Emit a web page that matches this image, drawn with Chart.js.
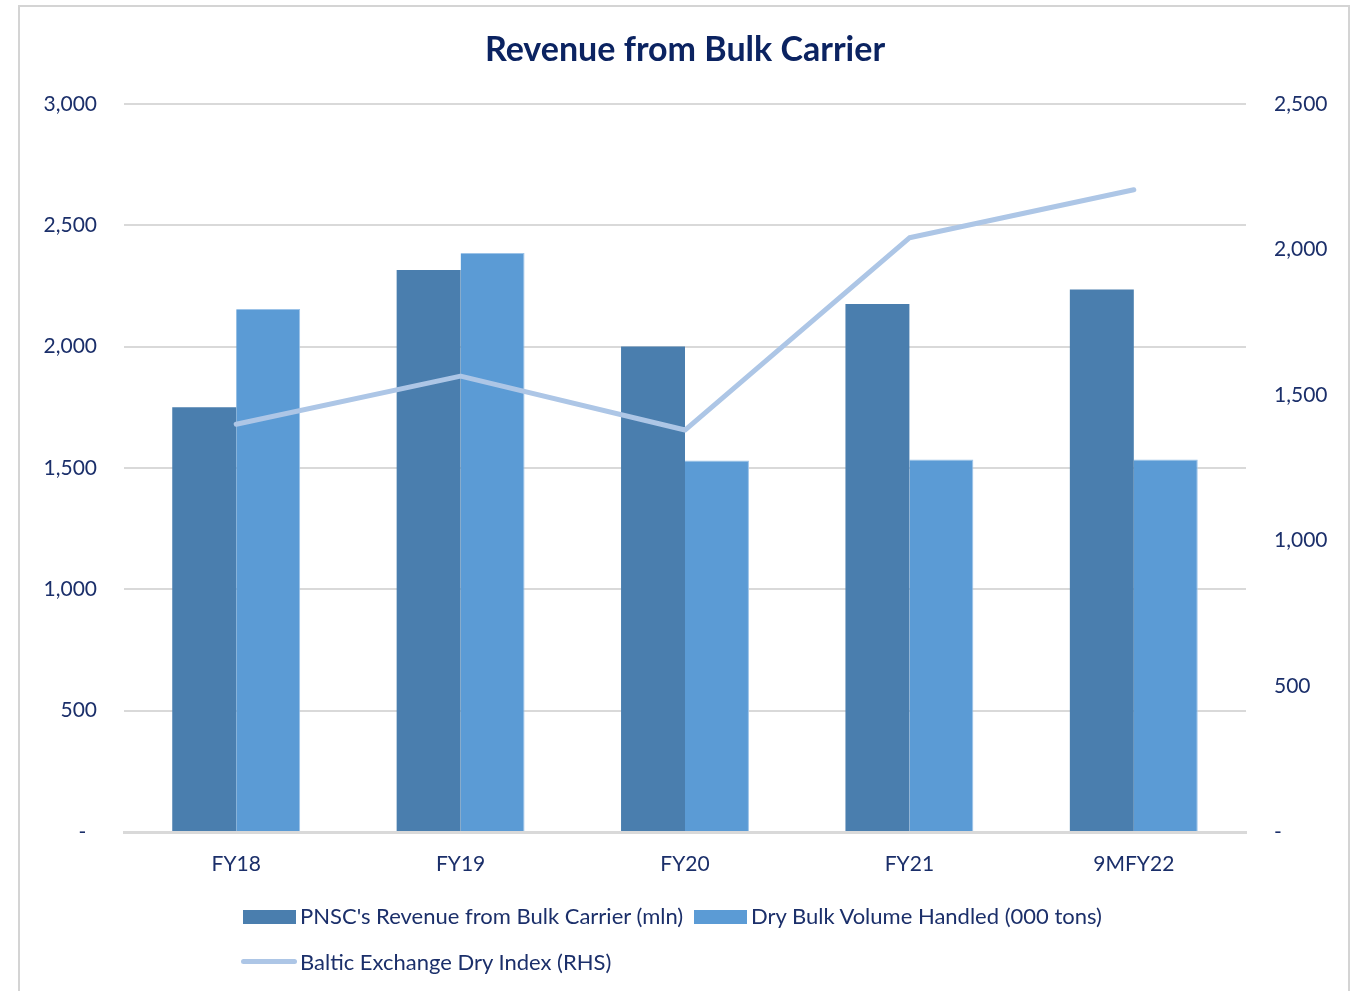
<!DOCTYPE html>
<html>
<head>
<meta charset="utf-8">
<script src="https://cdn.jsdelivr.net/npm/chart.js@4"></script>
<style>
  html, body { margin: 0; padding: 0; background: #ffffff; }
  body { width: 1360px; height: 991px; position: relative; overflow: hidden; font-family: Lato, "Open Sans", sans-serif; }
  #frame { position: absolute; left: 18px; top: 5px; width: 1332px; height: 1000px; border: 2px solid #d4d4d4; box-sizing: border-box; }
  #wrap { position: absolute; left: 0; top: 0; width: 1360px; height: 991px; }
  .leg { position: absolute; font-size: 22px; color: #1b2f6a; white-space: nowrap; line-height: 24px; }
  .swatch { position: absolute; }
</style>
</head>
<body>
<div id="frame"></div>
<div id="wrap"><canvas id="chart" width="1360" height="991"></canvas></div>

<div class="swatch" style="left:243px; top:910px; width:53px; height:14px; background:#4a7eae;"></div>
<div class="leg" style="left:300px; top:904px;">PNSC's Revenue from Bulk Carrier (mln)</div>
<div class="swatch" style="left:694px; top:910px; width:53px; height:14px; background:#5b9bd5;"></div>
<div class="leg" style="left:751px; top:904px;">Dry Bulk Volume Handled (000 tons)</div>
<div class="swatch" style="left:241px; top:959px; width:56px; height:5px; border-radius:3px; background:#adc6e6;"></div>
<div class="leg" style="left:300px; top:950px;">Baltic Exchange Dry Index (RHS)</div>

<script>
// Fiscal periods on the category axis
const categories = ['FY18', 'FY19', 'FY20', 'FY21', '9MFY22'];
// PNSC's revenue from bulk carriers, PKR mln (left axis)
const bulkRevenue = [1750, 2315, 2000, 2175, 2235];
// Dry bulk volume handled, 000 tons (left axis)
const dryBulkVolume = [2155, 2385, 1530, 1535, 1535];
// Baltic Exchange Dry Index (right axis)
const balticDryIndex = [1400, 1565, 1380, 2040, 2205];

const textColor = '#1b2f6a';
const gridColor = '#d9d9d9';
const fontFamily = 'Lato, "Open Sans", sans-serif';

// accounting-style labels: zero shown as a dash
const fmtLeft = v => v === 0 ? '-  ' : v.toLocaleString('en-US');
const fmtRight = v => v === 0 ? '-' : v.toLocaleString('en-US');

new Chart(document.getElementById('chart'), {
  data: {
    labels: categories,
    datasets: [
      {
        type: 'line',
        label: 'Baltic Exchange Dry Index (RHS)',
        data: balticDryIndex,
        yAxisID: 'yRight',
        borderColor: '#adc6e6',
        backgroundColor: '#adc6e6',
        borderWidth: 5,
        borderCapStyle: 'round',
        borderJoinStyle: 'round',
        pointRadius: 0,
        tension: 0,
        order: 0
      },
      {
        type: 'bar',
        label: "PNSC's Revenue from Bulk Carrier (mln)",
        data: bulkRevenue,
        yAxisID: 'yLeft',
        backgroundColor: '#4a7eae',
        barPercentage: 1.0,
        categoryPercentage: 0.57,
        order: 1
      },
      {
        type: 'bar',
        label: 'Dry Bulk Volume Handled (000 tons)',
        data: dryBulkVolume,
        yAxisID: 'yLeft',
        backgroundColor: '#5b9bd5',
        borderColor: '#9cc3e8',
        borderWidth: { top: 1, left: 0, right: 1, bottom: 0 },
        barPercentage: 1.0,
        categoryPercentage: 0.57,
        order: 1
      }
    ]
  },
  options: {
    responsive: false,
    animation: false,
    layout: { padding: { top: 0, left: 0, right: 0, bottom: 99 } },
    plugins: {
      legend: { display: false },
      tooltip: { enabled: false },
      title: {
        display: true,
        fullSize: false,
        text: 'Revenue from Bulk Carrier',
        color: '#0b2361',
        font: { family: fontFamily, size: 34, weight: 'bold', lineHeight: 1.2 },
        padding: { top: 30, bottom: 33 }
      }
    },
    scales: {
      x: {
        grid: { display: false },
        border: { display: true, color: gridColor, width: 3 },
        ticks: { color: textColor, font: { family: fontFamily, size: 21 }, padding: 12 },
        afterFit: s => { s.height = 60; }
      },
      yLeft: {
        position: 'left',
        min: 0,
        max: 3000,
        grid: { color: gridColor, lineWidth: 2, drawTicks: false },
        border: { display: false },
        ticks: { stepSize: 500, color: textColor, font: { family: fontFamily, size: 21 }, padding: 27, callback: fmtLeft },
        afterFit: s => { s.width = 124; }
      },
      yRight: {
        position: 'right',
        min: 0,
        max: 2500,
        grid: { display: false, drawTicks: false },
        border: { display: false },
        ticks: { stepSize: 500, color: textColor, font: { family: fontFamily, size: 21 }, padding: 28, callback: fmtRight },
        afterFit: s => { s.width = 114; }
      }
    }
  }
});
</script>
</body>
</html>
